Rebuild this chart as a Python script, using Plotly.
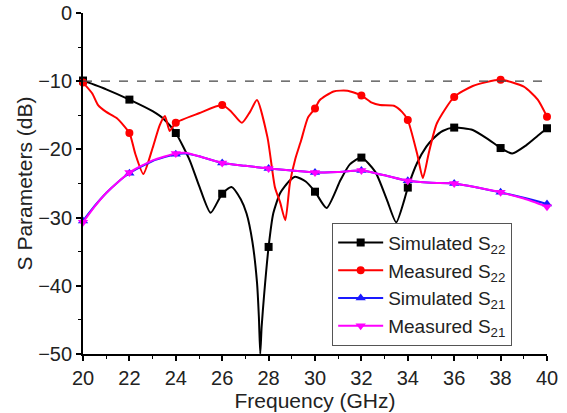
import plotly.graph_objects as go

# ---- data ----
sim_s22_f = [20.0, 21.0, 22.0, 23.0, 23.5, 24.0, 24.6, 25.0, 25.5, 26.0, 26.4, 26.8, 27.05, 27.3, 27.5,
             27.58, 27.64, 27.7, 27.8, 28.0, 28.2, 28.5, 28.9, 29.15, 29.6, 30.0, 30.5, 31.1, 31.5, 32.0,
             32.6, 33.1, 33.5, 33.85, 34.0, 34.4, 34.8, 35.1, 35.5, 36.0, 36.8, 37.5, 38.0, 38.5, 39.1,
             39.6, 40.0]
sim_s22_v = [-9.9, -11.2, -12.7, -14.4, -15.6, -17.6, -21.6, -25.3, -29.3, -26.5, -25.5, -27.3, -29.4, -33.5, -39.5,
             -44.5, -50.0, -46.0, -41.6, -34.3, -29.4, -26.4, -24.6, -24.0, -24.7, -26.2, -28.6, -24.5, -22.2, -21.2,
             -23.3, -27.4, -30.7, -27.4, -25.6, -22.0, -19.6, -18.4, -17.3, -16.8, -17.15, -18.6, -19.8, -20.6, -19.4,
             -18.0, -16.9]

meas_s22_f = [20.0, 20.4, 20.65, 21.0, 21.45, 22.0, 22.25, 22.6, 23.0, 23.3, 23.53, 23.74, 24.0, 25.0, 26.0,
              26.4, 26.85, 27.2, 27.5, 27.95, 28.27, 28.5, 28.72, 28.92, 29.15, 29.4, 29.7, 30.0, 30.2, 30.8,
              31.4, 32.0, 32.45, 32.8, 33.4, 33.75, 34.0, 34.4, 34.65, 34.9, 35.25, 36.0, 36.8, 38.0, 39.0,
              39.6, 40.0]
meas_s22_v = [-10.2, -11.8, -13.5, -14.5, -15.4, -17.6, -20.6, -23.6, -19.8, -16.5, -15.1, -17.3, -16.1, -14.7, -13.5,
              -14.5, -16.1, -14.5, -12.75, -18.2, -25.5, -27.8, -30.4, -24.9, -21.4, -18.7, -15.3, -14.0, -12.8, -11.5,
              -11.4, -12.1, -13.15, -13.5, -13.6, -14.5, -15.7, -20.6, -24.2, -20.6, -16.2, -12.3, -10.7, -9.8, -10.8,
              -12.7, -15.2]

s21_f = [20.0, 20.5, 21.0, 21.5, 22.0, 23.0, 24.0, 24.4, 25.0, 26.0, 27.0, 28.0, 29.0, 30.0, 31.0,
         32.0, 33.0, 34.0, 35.0, 36.0, 37.0, 38.0, 39.0, 40.0]
sim_s21_v = [-30.5, -28.3, -26.4, -24.8, -23.5, -21.7, -20.7, -20.6, -21.0, -22.0, -22.4, -22.8, -23.1, -23.4, -23.3,
             -23.1, -23.8, -24.6, -24.9, -25.0, -25.6, -26.3, -27.1, -28.0]
meas_s21_v = [-30.7, -28.4, -26.4, -24.8, -23.4, -21.6, -20.6, -20.5, -21.0, -22.0, -22.4, -22.8, -23.1, -23.4, -23.3,
              -23.1, -23.8, -24.6, -24.9, -25.0, -25.6, -26.3, -27.2, -28.4]

marker_freqs = [20, 22, 24, 26, 28, 30, 32, 34, 36, 38, 40]
threshold_db = -10

series = [
    ("Simulated S<sub>22</sub>", sim_s22_f, sim_s22_v, "#000000", "square", 8),
    ("Measured S<sub>22</sub>", meas_s22_f, meas_s22_v, "#ff0000", "circle", 8),
    ("Simulated S<sub>21</sub>", s21_f, sim_s21_v, "#1a1aff", "triangle-up", 9),
    ("Measured S<sub>21</sub>", s21_f, meas_s21_v, "#ff00ff", "triangle-down", 9),
]

FONT = "Arial, 'Liberation Sans', sans-serif"

fig = go.Figure()

for name, f, v, col, sym, ms in series:
    fig.add_trace(go.Scatter(x=f, y=v, mode="lines", line=dict(color=col, width=2, shape="spline", smoothing=0.6),
                             showlegend=False, hoverinfo="skip", cliponaxis=True))
    mx = [x for x in f if x in marker_freqs]
    my = [y for x, y in zip(f, v) if x in marker_freqs]
    fig.add_trace(go.Scatter(x=mx, y=my, mode="markers", marker=dict(color=col, symbol=sym, size=ms),
                             showlegend=False, cliponaxis=False))
    fig.add_trace(go.Scatter(x=[None], y=[None], mode="lines+markers", name=name,
                             line=dict(color=col, width=2), marker=dict(color=col, symbol=sym, size=ms)))

fig.add_hline(y=threshold_db, line=dict(color="#444444", width=1.2, dash="dash"))

axis_common = dict(showline=True, linecolor="black", linewidth=1.8, mirror=False, showgrid=False, zeroline=False,
                   ticks="outside", ticklen=5, tickwidth=1.5, tickcolor="black", automargin=False,
                   tickfont=dict(family=FONT, size=20, color="#222222"))

fig.update_xaxes(range=[20, 40], dtick=2, tick0=20,
                 minor=dict(dtick=1, ticks="outside", ticklen=3, tickcolor="black", tickwidth=1.2),
                 title=dict(text="Frequency (GHz)", font=dict(family=FONT, size=21, color="#222222"), standoff=0),
                 **axis_common)
fig.update_yaxes(range=[-50, 0], dtick=10, tick0=0,
                 minor=dict(dtick=5, ticks="outside", ticklen=3, tickcolor="black", tickwidth=1.2),
                 title=dict(text="S Parameters (dB)", font=dict(family=FONT, size=21, color="#222222"), standoff=0),
                 **axis_common)

fig.update_layout(
    width=567, height=413,
    margin=dict(l=83, r=20, t=13, b=59, autoexpand=False),
    plot_bgcolor="white", paper_bgcolor="white",
    font=dict(family=FONT, size=20, color="#222222"),
    legend=dict(x=0.537, y=0.385, xanchor="left", yanchor="top",
                bgcolor="white", bordercolor="#555555", borderwidth=1,
                font=dict(family=FONT, size=19, color="#222222"), itemwidth=45, tracegroupgap=0),
)

# remove the default 8 px body margin so the figure fills the window exactly
fig.write_html("out.html", config={"displayModeBar": False},
               post_script="document.body.style.margin='0px';")
